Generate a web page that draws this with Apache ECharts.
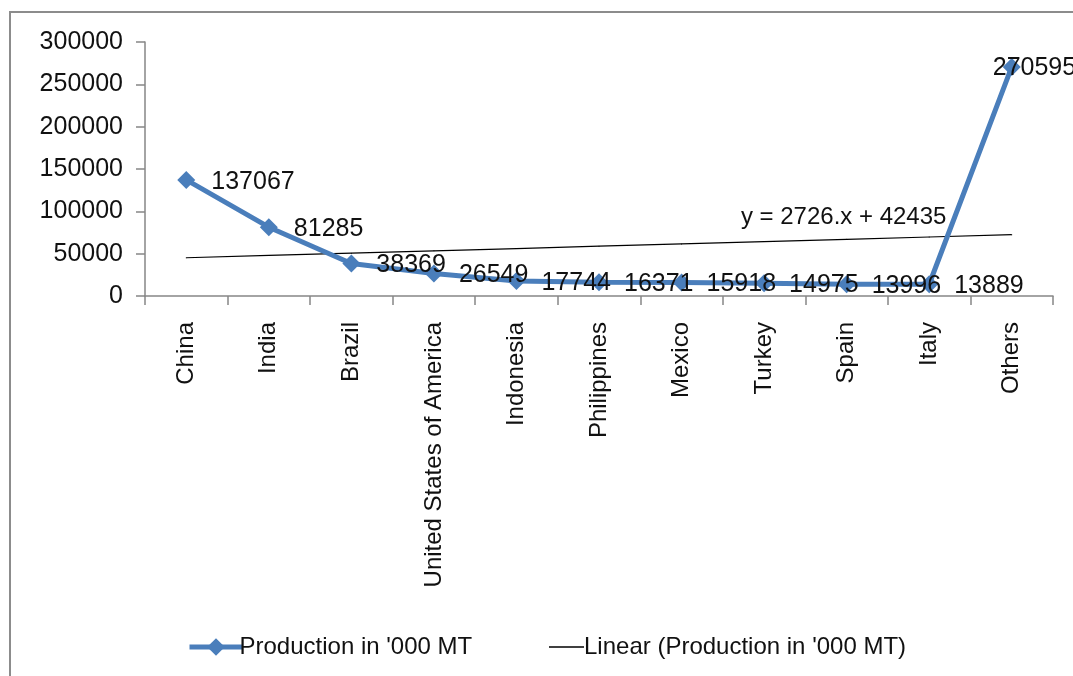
<!DOCTYPE html>
<html>
<head>
<meta charset="utf-8">
<script src="https://cdn.jsdelivr.net/npm/echarts@6/dist/echarts.min.js"></script>
<style>
  html, body { margin: 0; padding: 0; background: #ffffff; }
  #chart { width: 1073px; height: 676px; }
</style>
</head>
<body>
<div id="chart"></div>
<script>
// Production by country, thousand metric tonnes
const countries = ['China', 'India', 'Brazil', 'United States of America', 'Indonesia',
  'Philippines', 'Mexico', 'Turkey', 'Spain', 'Italy', 'Others'];
const production = [137067, 81285, 38369, 26549, 17744, 16371, 15918, 14975, 13996, 13889, 270595];
const yTicks = [0, 50000, 100000, 150000, 200000, 250000, 300000];

// Least-squares trend line y = a.x + b (x = 1..n)
const trendSlope = 2726;
const trendIntercept = 42435;
const trendValues = countries.map((_, i) => trendSlope * (i + 1) + trendIntercept);

const seriesName = "Production in '000 MT";
const trendName = "Linear (Production in '000 MT)";
const blue = '#4a7ebb';
const font = '"Liberation Sans", Arial, sans-serif';

const chart = echarts.init(document.getElementById('chart'), null, { renderer: 'canvas' });

const prodData = production.map((v, i) => {
  if (i === production.length - 1) {
    return { value: v, label: { position: 'inside', align: 'left', offset: [-19, 1] } };
  }
  return v;
});

const trendData = trendValues.map((v, i) => {
  if (i === 8) {
    return {
      value: v,
      label: {
        show: true,
        position: 'top',
        distance: 10,
        offset: [-3, 1],
        formatter: 'y = ' + trendSlope + '.x + ' + trendIntercept,
        fontFamily: font,
        fontSize: 24,
        color: '#111'
      }
    };
  }
  return v;
});

chart.setOption({
  animation: false,
  backgroundColor: '#ffffff',
  textStyle: { fontFamily: font },
  graphic: [{
    type: 'rect',
    shape: { x: 10, y: 12, width: 1200, height: 800 },
    style: { fill: 'none', stroke: '#8c8c8c', lineWidth: 2 },
    silent: true,
    z: -1
  }],
  grid: { left: 145, right: 20, top: 42, bottom: 380, containLabel: false },
  legend: [{
    data: [{ name: seriesName }],
    left: 182,
    top: 630,
    itemWidth: 53,
    itemHeight: 22,
    lineStyle: { width: 5 },
    textStyle: { fontFamily: font, fontSize: 24, color: '#111', padding: [0, 0, 0, -8] }
  }, {
    data: [{ name: trendName, icon: 'rect' }],
    left: 544,
    top: 630,
    itemWidth: 35,
    itemHeight: 1.5,
    itemStyle: { color: '#000000' },
    textStyle: { fontFamily: font, fontSize: 24, color: '#111', padding: [0, 0, 0, -5] }
  }],
  xAxis: {
    type: 'category',
    data: countries,
    boundaryGap: true,
    axisLine: { lineStyle: { color: '#868686', width: 1.5 } },
    axisTick: { show: true, length: 9, alignWithLabel: false, lineStyle: { color: '#868686', width: 1.5 } },
    axisLabel: {
      rotate: 90,
      interval: 0,
      margin: 26,
      fontFamily: font,
      fontSize: 24,
      color: '#111'
    },
    splitLine: { show: false }
  },
  yAxis: {
    type: 'value',
    min: yTicks[0],
    max: yTicks[yTicks.length - 1],
    interval: yTicks[1] - yTicks[0],
    axisLine: { show: true, lineStyle: { color: '#868686', width: 1.5 } },
    axisTick: { show: true, length: 9, lineStyle: { color: '#868686', width: 1.5 } },
    axisLabel: {
      margin: 22,
      fontFamily: font,
      fontSize: 25,
      color: '#111',
      formatter: v => String(v)
    },
    splitLine: { show: false }
  },
  series: [{
    name: seriesName,
    type: 'line',
    data: prodData,
    symbol: 'diamond',
    symbolSize: 18,
    lineStyle: { color: blue, width: 5 },
    itemStyle: { color: blue },
    label: {
      show: true,
      position: 'right',
      distance: 16,
      offset: [0, 2],
      fontFamily: font,
      fontSize: 25,
      color: '#111'
    },
    z: 3
  }, {
    name: trendName,
    type: 'line',
    data: trendData,
    symbol: 'circle',
    symbolSize: 1,
    showSymbol: true,
    lineStyle: { color: '#000000', width: 1.2 },
    itemStyle: { color: '#000000' },
    z: 2
  }]
});
</script>
</body>
</html>
